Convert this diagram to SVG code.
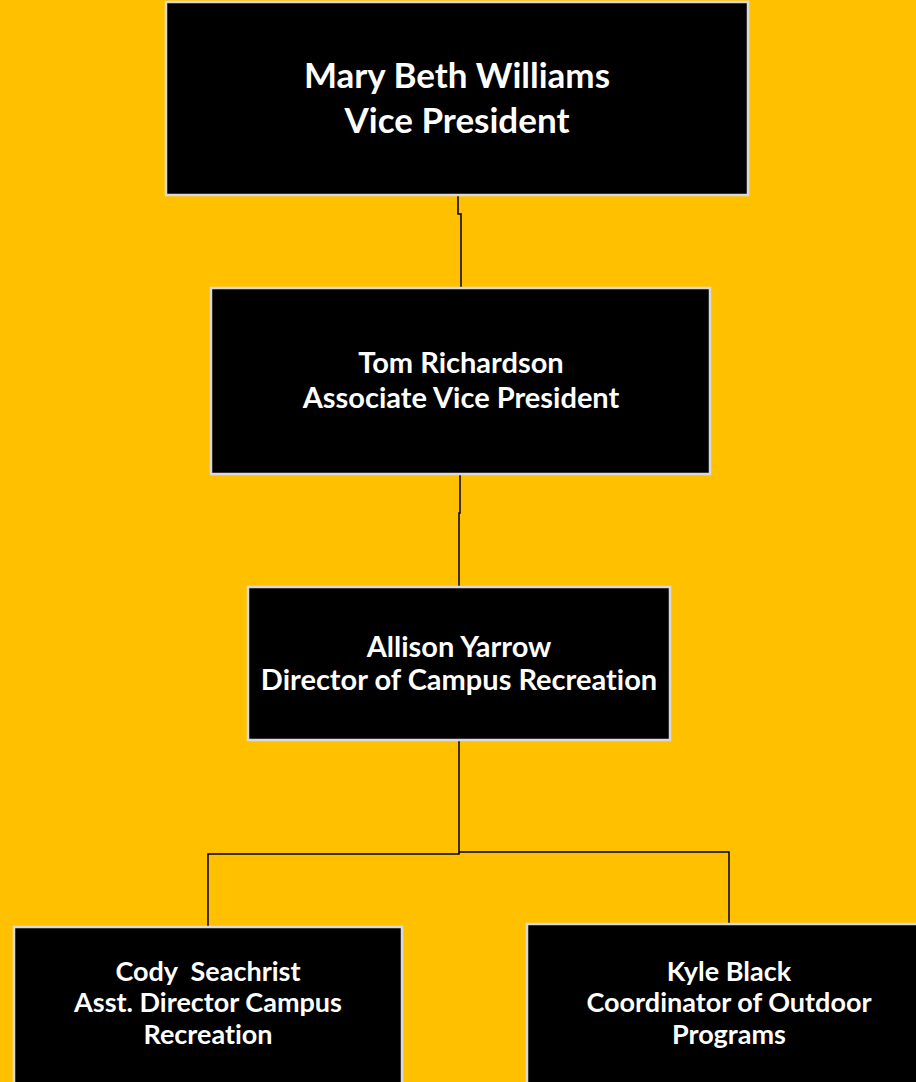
<svg xmlns="http://www.w3.org/2000/svg" width="916" height="1082" viewBox="0 0 916 1082">
<style>
.box{fill:#000;stroke:#D9D9D9;stroke-width:2.5}
.t{fill:#fff;font-family:Lato,"Open Sans",sans-serif;font-weight:bold;text-anchor:middle;font-variant-ligatures:none}
.c{fill:none;stroke:#000;stroke-width:1.5}
</style>
<rect width="916" height="1082" fill="#FFC000"/>
<g id="connectors">
<path class="c" d="M458 195 V214 H461 V288"/>
<path class="c" d="M460 474 V513 H459 V587"/>
<path class="c" d="M459 740 V854 H208 V927"/>
<path class="c" d="M459 852 H729 V924"/>
</g>
<g id="n1">
<rect class="box" x="166" y="2" width="582" height="193"/>
<text class="t" x="457" y="88" font-size="35">Mary Beth Williams</text>
<text class="t" x="457" y="133" font-size="35">Vice President</text>
</g>
<g id="n2">
<rect class="box" x="211" y="288" width="499" height="186"/>
<text class="t" x="461" y="373" font-size="29">Tom Richardson</text>
<text class="t" x="461" y="408" font-size="29">Associate Vice President</text>
</g>
<g id="n3">
<rect class="box" x="248" y="587" width="422" height="153"/>
<text class="t" x="459" y="657" font-size="29">Allison Yarrow</text>
<text class="t" x="459" y="690" font-size="29">Director of Campus Recreation</text>
</g>
<g id="n4">
<rect class="box" x="14" y="927" width="388" height="170"/>
<text class="t" x="208" y="981" font-size="27" xml:space="preserve">Cody  Seachrist</text>
<text class="t" x="208" y="1012" font-size="27">Asst. Director Campus</text>
<text class="t" x="208" y="1044" font-size="27">Recreation</text>
</g>
<g id="n5">
<rect class="box" x="527" y="924" width="400" height="170"/>
<text class="t" x="729" y="981" font-size="27">Kyle Black</text>
<text class="t" x="729" y="1012" font-size="27">Coordinator of Outdoor</text>
<text class="t" x="729" y="1044" font-size="27">Programs</text>
</g>
</svg>
